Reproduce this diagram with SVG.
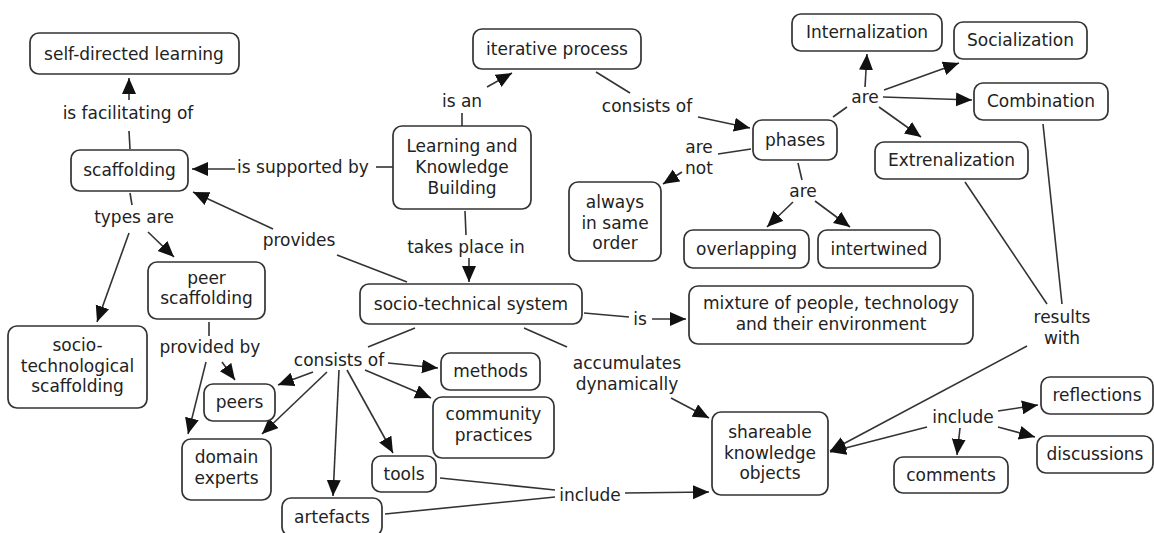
<svg xmlns="http://www.w3.org/2000/svg" width="1154" height="533" viewBox="0 0 1154 533">
<style>
.n rect{fill:#fff;stroke:#333;stroke-width:1.7}
text{font-family:"DejaVu Sans",Verdana,sans-serif;font-size:17px;fill:#222;text-anchor:middle}
#connectors line{stroke:#333;stroke-width:1.6}
#connectors line.a{marker-end:url(#ah)}
</style>
<defs>
<marker id="ah" markerUnits="userSpaceOnUse" markerWidth="18" markerHeight="16" refX="16" refY="7" orient="auto">
<path d="M0,0 L16,7 L0,14 z" fill="#111"/>
</marker>
</defs>
<rect width="1154" height="533" fill="#fff"/>
<g id="connectors">
<line class="a" x1="129" y1="100" x2="129" y2="78"/>
<line x1="129" y1="131" x2="130" y2="149"/>
<line x1="376" y1="167" x2="393" y2="167"/>
<line class="a" x1="235" y1="169" x2="192" y2="169"/>
<line x1="337" y1="255" x2="407" y2="282"/>
<line class="a" x1="273" y1="229" x2="193" y2="192"/>
<line x1="130" y1="193" x2="132" y2="205"/>
<line class="a" x1="148" y1="232" x2="174" y2="257"/>
<line class="a" x1="129" y1="233" x2="97" y2="322"/>
<line x1="462" y1="126" x2="462" y2="113"/>
<line class="a" x1="487" y1="87" x2="512" y2="73"/>
<line x1="596" y1="72" x2="630" y2="93"/>
<line class="a" x1="698" y1="117" x2="750" y2="128"/>
<line x1="751" y1="149" x2="718" y2="154"/>
<line class="a" x1="682" y1="172" x2="663" y2="184"/>
<line x1="465" y1="211" x2="466" y2="235"/>
<line class="a" x1="469" y1="258" x2="469" y2="282"/>
<line x1="833" y1="117" x2="847" y2="107"/>
<line class="a" x1="865" y1="87" x2="867" y2="54"/>
<line class="a" x1="884" y1="90" x2="959" y2="63"/>
<line class="a" x1="883" y1="97" x2="972" y2="100"/>
<line class="a" x1="879" y1="107" x2="921" y2="137"/>
<line x1="798" y1="163" x2="802" y2="180"/>
<line class="a" x1="793" y1="202" x2="767" y2="227"/>
<line class="a" x1="815" y1="201" x2="850" y2="227"/>
<line x1="965" y1="182" x2="1047" y2="304"/>
<line x1="1043" y1="124" x2="1062" y2="304"/>
<line class="a" x1="1027" y1="346" x2="830" y2="451"/>
<line x1="584" y1="313" x2="629" y2="317"/>
<line class="a" x1="652" y1="319" x2="686" y2="319"/>
<line x1="524" y1="328" x2="567" y2="347"/>
<line class="a" x1="671" y1="398" x2="709" y2="418"/>
<line x1="209" y1="322" x2="209" y2="336"/>
<line class="a" x1="222" y1="362" x2="235" y2="380"/>
<line class="a" x1="206" y1="362" x2="188" y2="434"/>
<line x1="415" y1="328" x2="368" y2="347"/>
<line class="a" x1="388" y1="363" x2="438" y2="368"/>
<line class="a" x1="365" y1="370" x2="431" y2="398"/>
<line class="a" x1="313" y1="372" x2="278" y2="385"/>
<line class="a" x1="327" y1="372" x2="262" y2="434"/>
<line class="a" x1="339" y1="370" x2="333" y2="496"/>
<line class="a" x1="347" y1="370" x2="393" y2="453"/>
<line x1="440" y1="478" x2="555" y2="490"/>
<line x1="385" y1="514" x2="555" y2="497"/>
<line class="a" x1="625" y1="493" x2="709" y2="492"/>
<line class="a" x1="927" y1="427" x2="830" y2="452"/>
<line class="a" x1="998" y1="411" x2="1038" y2="405"/>
<line class="a" x1="998" y1="427" x2="1035" y2="437"/>
<line class="a" x1="960" y1="428" x2="957" y2="455"/>
</g>
<g id="labels">
<text x="128" y="119">is facilitating of</text>
<text x="303" y="173">is supported by</text>
<text x="299" y="246">provides</text>
<text x="134" y="223">types are</text>
<text x="462" y="107">is an</text>
<text x="647" y="112">consists of</text>
<text x="699" y="153">are</text>
<text x="699" y="174">not</text>
<text x="466" y="253">takes place in</text>
<text x="865" y="103">are</text>
<text x="803" y="197">are</text>
<text x="1062" y="323">results</text>
<text x="1062" y="344">with</text>
<text x="210" y="353">provided by</text>
<text x="339" y="366">consists of</text>
<text x="640" y="325">is</text>
<text x="627" y="369">accumulates</text>
<text x="627" y="390">dynamically</text>
<text x="590" y="501">include</text>
<text x="963" y="423">include</text>
</g>
<g id="n-self" class="n"><rect x="30" y="33" width="209" height="41" rx="9"/><text x="134" y="60">self-directed learning</text></g>
<g id="n-scaffolding" class="n"><rect x="71" y="150" width="117" height="41" rx="9"/><text x="129.5" y="176">scaffolding</text></g>
<g id="n-iterative" class="n"><rect x="473" y="29" width="168" height="40" rx="9"/><text x="557" y="55">iterative process</text></g>
<g id="n-lkb" class="n"><rect x="393" y="126" width="138" height="83" rx="9"/><text x="462" y="152">Learning and</text><text x="462" y="173">Knowledge</text><text x="462" y="194">Building</text></g>
<g id="n-internalization" class="n"><rect x="792" y="14" width="150" height="37" rx="9"/><text x="867" y="38">Internalization</text></g>
<g id="n-socialization" class="n"><rect x="954" y="22" width="133" height="37" rx="9"/><text x="1020.5" y="46">Socialization</text></g>
<g id="n-combination" class="n"><rect x="974" y="83" width="134" height="37" rx="9"/><text x="1041" y="107">Combination</text></g>
<g id="n-extrenalization" class="n"><rect x="875" y="142" width="153" height="37" rx="9"/><text x="951.5" y="166">Extrenalization</text></g>
<g id="n-phases" class="n"><rect x="753" y="120" width="84" height="40" rx="9"/><text x="795" y="146">phases</text></g>
<g id="n-always" class="n"><rect x="569" y="182" width="92" height="79" rx="9"/><text x="615" y="208">always</text><text x="615" y="229">in same</text><text x="615" y="249">order</text></g>
<g id="n-overlapping" class="n"><rect x="684" y="230" width="125" height="38" rx="9"/><text x="746.5" y="255">overlapping</text></g>
<g id="n-intertwined" class="n"><rect x="818" y="230" width="122" height="38" rx="9"/><text x="879" y="255">intertwined</text></g>
<g id="n-peerscaf" class="n"><rect x="148" y="262" width="117" height="57" rx="9"/><text x="206.5" y="284">peer</text><text x="206.5" y="304">scaffolding</text></g>
<g id="n-sociotech-scaf" class="n"><rect x="8" y="326" width="139" height="82" rx="9"/><text x="77.5" y="351">socio-</text><text x="77.5" y="372">technological</text><text x="77.5" y="392">scaffolding</text></g>
<g id="n-sts" class="n"><rect x="360" y="284" width="222" height="40" rx="9"/><text x="471" y="310">socio-technical system</text></g>
<g id="n-mixture" class="n"><rect x="689" y="286" width="284" height="58" rx="9"/><text x="831" y="309">mixture of people, technology</text><text x="831" y="330">and their environment</text></g>
<g id="n-methods" class="n"><rect x="441" y="353" width="99" height="37" rx="9"/><text x="490.5" y="377">methods</text></g>
<g id="n-community" class="n"><rect x="433" y="397" width="121" height="61" rx="9"/><text x="493.5" y="420">community</text><text x="493.5" y="441">practices</text></g>
<g id="n-peers" class="n"><rect x="204" y="384" width="71" height="37" rx="9"/><text x="239.5" y="408">peers</text></g>
<g id="n-domain" class="n"><rect x="182" y="439" width="89" height="61" rx="9"/><text x="226.5" y="463">domain</text><text x="226.5" y="484">experts</text></g>
<g id="n-tools" class="n"><rect x="372" y="456" width="64" height="36" rx="9"/><text x="404" y="480">tools</text></g>
<g id="n-artefacts" class="n"><rect x="282" y="498" width="100" height="38" rx="9"/><text x="332" y="523">artefacts</text></g>
<g id="n-shareable" class="n"><rect x="712" y="412" width="116" height="83" rx="9"/><text x="770" y="438">shareable</text><text x="770" y="459">knowledge</text><text x="770" y="479">objects</text></g>
<g id="n-reflections" class="n"><rect x="1041" y="377" width="112" height="37" rx="9"/><text x="1097" y="401">reflections</text></g>
<g id="n-discussions" class="n"><rect x="1037" y="436" width="116" height="37" rx="9"/><text x="1095" y="460">discussions</text></g>
<g id="n-comments" class="n"><rect x="894" y="457" width="114" height="36" rx="9"/><text x="951" y="481">comments</text></g>
</svg>
